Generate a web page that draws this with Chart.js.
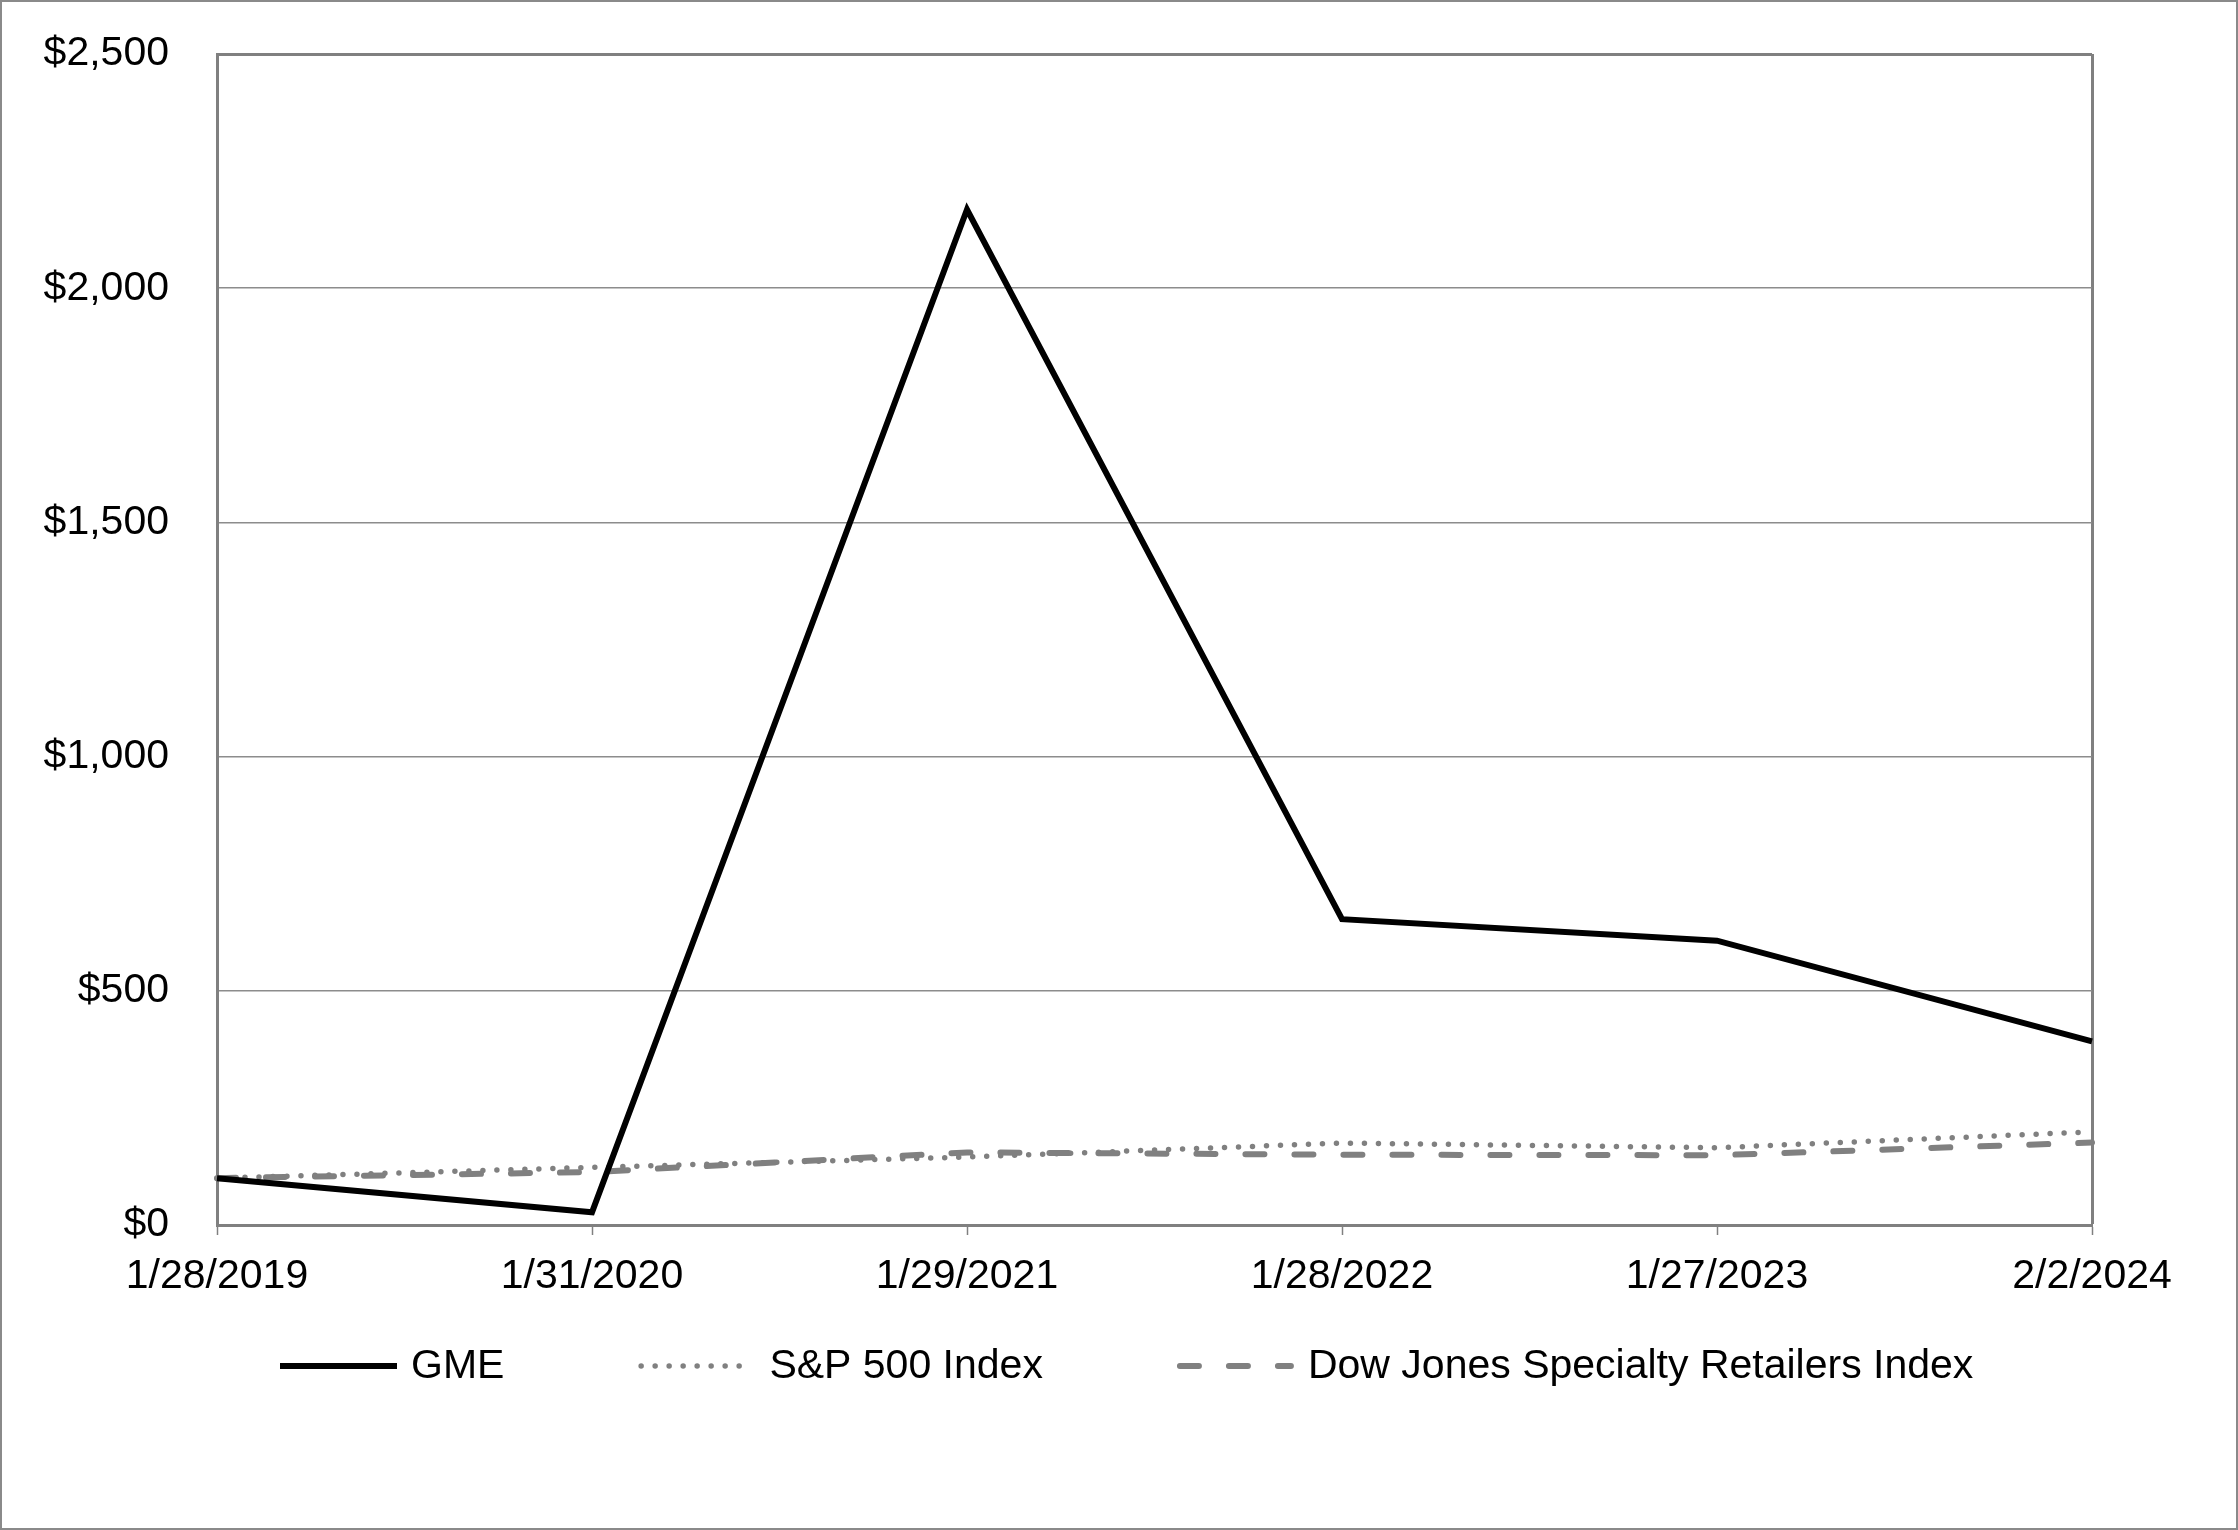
<!DOCTYPE html>
<html>
<head>
<meta charset="utf-8">
<script src="https://cdn.jsdelivr.net/npm/chart.js@4"></script>
<style>
    html, body { margin: 0; padding: 0; background: #fff; }
    #wrap { width: 2234px; height: 1526px; border: 2px solid #8a8a8a; }
    canvas { display: block; }
</style>
</head>
<body>
<div id="wrap"><canvas id="chart" width="2234" height="1526"></canvas></div>
<script>
// Data (cumulative total return, $100 base)
const dates = ['1/28/2019', '1/31/2020', '1/29/2021', '1/28/2022', '1/27/2023', '2/2/2024'];
const gme = [100, 27, 2168, 653, 607, 392];
const sp500 = [100, 123, 145, 175, 165, 199];
const dowJones = [100, 113, 155, 150, 149, 176];
const yTicks = [0, 500, 1000, 1500, 2000, 2500];

const GRAY = '#808080';
const FONT = '"Liberation Sans", Arial, sans-serif';

Chart.defaults.font.family = FONT;
Chart.defaults.font.size = 41;
Chart.defaults.color = '#000';

// Legend drawn by hand so the spacing can match the original
const lineLegend = {
    id: 'lineLegend',
    afterDraw(chart) {
        const ctx = chart.ctx;
        const lineLen = 117, gap = 14, itemGap = 134, y = 1364;
        ctx.save();
        ctx.font = '41px ' + FONT;
        let x = 278;
        chart.data.datasets.forEach(ds => {
            ctx.beginPath();
            ctx.strokeStyle = ds.borderColor;
            ctx.lineWidth = ds.borderWidth;
            ctx.lineCap = ds.borderCapStyle || 'butt';
            ctx.setLineDash(ds.borderDash || []);
            const inset = ds.borderCapStyle === 'round' ? ds.borderWidth / 2 : 0;
            ctx.moveTo(x + inset, y);
            ctx.lineTo(x + lineLen - inset, y);
            ctx.stroke();
            ctx.setLineDash([]);
            ctx.fillStyle = '#000';
            ctx.textBaseline = 'middle';
            ctx.textAlign = 'left';
            ctx.fillText(ds.label, x + lineLen + gap, y + 1);
            x += lineLen + gap + ctx.measureText(ds.label).width + itemGap;
        });
        ctx.restore();
    }
};

new Chart(document.getElementById('chart'), {
    type: 'line',
    data: {
        labels: dates,
        datasets: [
            {
                label: 'GME',
                data: gme,
                borderColor: '#000',
                borderWidth: 6,
                borderJoinStyle: 'miter',
                pointRadius: 0,
                tension: 0
            },
            {
                label: 'S&P 500 Index',
                data: sp500,
                borderColor: GRAY,
                borderWidth: 5.5,
                borderDash: [0, 14],
                borderCapStyle: 'round',
                pointRadius: 0,
                tension: 0
            },
            {
                label: 'Dow Jones Specialty Retailers Index',
                data: dowJones,
                borderColor: GRAY,
                borderWidth: 6,
                borderDash: [19, 30],
                borderCapStyle: 'round',
                pointRadius: 0,
                tension: 0
            }
        ]
    },
    options: {
        responsive: false,
        animation: false,
        layout: { padding: { top: 52, right: 144, bottom: 231, left: 0 } },
        plugins: {
            legend: { display: false },
            tooltip: { enabled: false }
        },
        scales: {
            x: {
                offset: false,
                afterFit: s => { s.height = 72; },
                border: { display: true, color: GRAY, width: 3 },
                grid: {
                    color: c => c.index === dates.length - 1 ? GRAY : 'rgba(0,0,0,0)',
                    lineWidth: c => c.index === dates.length - 1 ? 3 : 1,
                    drawTicks: true,
                    tickLength: 10,
                    tickColor: GRAY,
                    tickWidth: 1.5
                },
                ticks: { padding: 17, maxRotation: 0, autoSkip: false, color: '#000' }
            },
            y: {
                min: 0,
                max: 2500,
                // fixed width; drop the label overflow so the top follows layout padding
                afterFit: s => { s.width = 215; s.paddingTop = 0; s.paddingBottom = 0; },
                afterBuildTicks: s => { s.ticks = yTicks.map(v => ({ value: v })); },
                border: { display: true, color: GRAY, width: 3 },
                grid: {
                    color: c => c.tick && c.tick.value === 2500 ? GRAY : '#8c8c8c',
                    lineWidth: c => c.tick && c.tick.value === 2500 ? 3 : 1.5,
                    drawTicks: false
                },
                ticks: {
                    padding: 48,
                    color: '#000',
                    callback: v => '$' + v.toLocaleString('en-US')
                }
            }
        }
    },
    plugins: [lineLegend]
});
</script>
</body>
</html>
